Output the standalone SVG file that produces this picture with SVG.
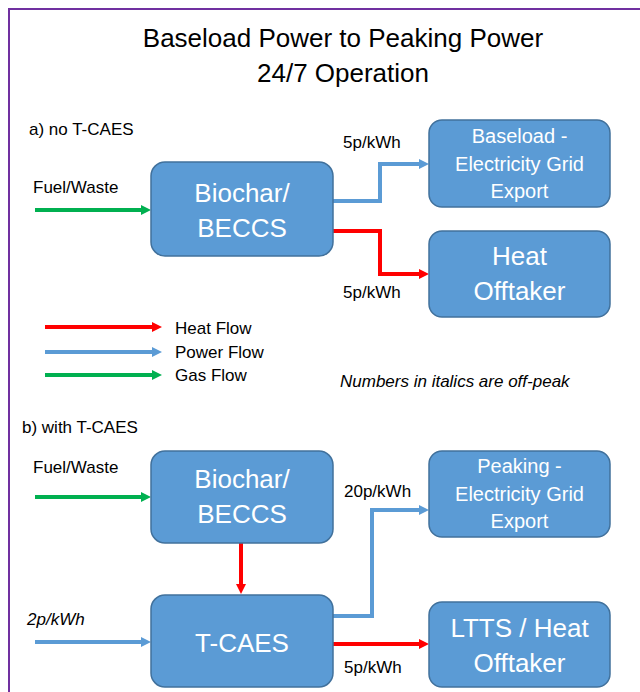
<svg xmlns="http://www.w3.org/2000/svg" width="640" height="692" viewBox="0 0 640 692">
<style>
  .node rect { fill: #5B9BD5; stroke: #41719C; stroke-width: 1.5; }
  .nt { font-family: "Liberation Sans", Arial, sans-serif; fill: #FFFFFF; text-anchor: middle; }
  .big { font-size: 26px; }
  .mid { font-size: 20px; }
  .lbl { font-family: "Liberation Sans", Arial, sans-serif; font-size: 17px; fill: #000000; }
  .it { font-style: italic; }
  .title { font-family: "Liberation Sans", Arial, sans-serif; font-size: 26px; fill: #000000; text-anchor: middle; }
  .c { fill: none; stroke-width: 4; stroke-linejoin: miter; }
  .red { stroke: #FF0000; }
  .blue { stroke: #5B9BD5; }
  .green { stroke: #00B050; }
</style>
<defs>
  <marker id="ar" viewBox="0 0 10 10" refX="2" refY="5" markerWidth="10" markerHeight="11" markerUnits="userSpaceOnUse" orient="auto">
    <path d="M0,0 L10,5 L0,10 z" fill="#FF0000"/>
  </marker>
  <marker id="ab" viewBox="0 0 10 10" refX="2" refY="5" markerWidth="10" markerHeight="11" markerUnits="userSpaceOnUse" orient="auto">
    <path d="M0,0 L10,5 L0,10 z" fill="#5B9BD5"/>
  </marker>
  <marker id="ag" viewBox="0 0 10 10" refX="2" refY="5" markerWidth="10" markerHeight="11" markerUnits="userSpaceOnUse" orient="auto">
    <path d="M0,0 L10,5 L0,10 z" fill="#00B050"/>
  </marker>
</defs>
<rect x="0" y="0" width="640" height="692" fill="#FFFFFF"/>
<path d="M640,9 H9 V692" fill="none" stroke="#7030A0" stroke-width="2"/>

<g id="title">
  <text class="title" x="343" y="47">Baseload Power to Peaking Power</text>
  <text class="title" x="343" y="82">24/7 Operation</text>
</g>

<g id="labels">
  <text class="lbl" x="29" y="135">a) no T-CAES</text>
  <text class="lbl" x="33" y="193">Fuel/Waste</text>
  <text class="lbl" x="343" y="148">5p/kWh</text>
  <text class="lbl" x="343" y="298">5p/kWh</text>
  <text class="lbl it" x="340" y="387">Numbers in italics are off-peak</text>
  <text class="lbl" x="22" y="433">b) with T-CAES</text>
  <text class="lbl" x="33" y="473">Fuel/Waste</text>
  <text class="lbl" x="344" y="497">20p/kWh</text>
  <text class="lbl it" x="27" y="625">2p/kWh</text>
  <text class="lbl" x="344" y="673">5p/kWh</text>
</g>

<g id="legend">
  <path class="c red" d="M45,327 H154" marker-end="url(#ar)"/>
  <path class="c blue" d="M45,352 H154" marker-end="url(#ab)"/>
  <path class="c green" d="M45,375 H154" marker-end="url(#ag)"/>
  <text class="lbl" x="175" y="334">Heat Flow</text>
  <text class="lbl" x="175" y="358">Power Flow</text>
  <text class="lbl" x="175" y="381">Gas Flow</text>
</g>

<g id="connectors">
  <path class="c green" d="M35,210 H143" marker-end="url(#ag)"/>
  <path class="c blue" d="M333,201 H380 V164 H421" marker-end="url(#ab)"/>
  <path class="c red" d="M333,231 H380 V274 H421" marker-end="url(#ar)"/>
  <path class="c green" d="M35,497 H143" marker-end="url(#ag)"/>
  <path class="c red" d="M241,543 V586" marker-end="url(#ar)"/>
  <path class="c blue" d="M35,642 H143" marker-end="url(#ab)"/>
  <path class="c blue" d="M333,616 H372 V510 H421" marker-end="url(#ab)"/>
  <path class="c red" d="M333,644 H421" marker-end="url(#ar)"/>
</g>

<g id="biochar-a" class="node">
  <rect x="151" y="162" width="182" height="94" rx="14"/>
  <text class="nt big" x="242" y="202">Biochar/</text>
  <text class="nt big" x="242" y="237">BECCS</text>
</g>
<g id="baseload-export" class="node">
  <rect x="429" y="120" width="181" height="87" rx="13"/>
  <text class="nt mid" x="519.5" y="143">Baseload -</text>
  <text class="nt mid" x="519.5" y="171">Electricity Grid</text>
  <text class="nt mid" x="519.5" y="198">Export</text>
</g>
<g id="heat-offtaker-a" class="node">
  <rect x="429" y="231" width="181" height="86" rx="13"/>
  <text class="nt big" x="519.5" y="265">Heat</text>
  <text class="nt big" x="519.5" y="300">Offtaker</text>
</g>
<g id="biochar-b" class="node">
  <rect x="151" y="451" width="182" height="92" rx="14"/>
  <text class="nt big" x="242" y="488">Biochar/</text>
  <text class="nt big" x="242" y="523">BECCS</text>
</g>
<g id="tcaes" class="node">
  <rect x="151" y="595" width="182" height="92" rx="14"/>
  <text class="nt big" x="242" y="652">T-CAES</text>
</g>
<g id="peaking-export" class="node">
  <rect x="429" y="451" width="181" height="86" rx="13"/>
  <text class="nt mid" x="519.5" y="473">Peaking -</text>
  <text class="nt mid" x="519.5" y="501">Electricity Grid</text>
  <text class="nt mid" x="519.5" y="528">Export</text>
</g>
<g id="ltts-heat-offtaker" class="node">
  <rect x="429" y="602" width="181" height="85" rx="13"/>
  <text class="nt big" x="519.5" y="637">LTTS / Heat</text>
  <text class="nt big" x="519.5" y="672">Offtaker</text>
</g>
</svg>
